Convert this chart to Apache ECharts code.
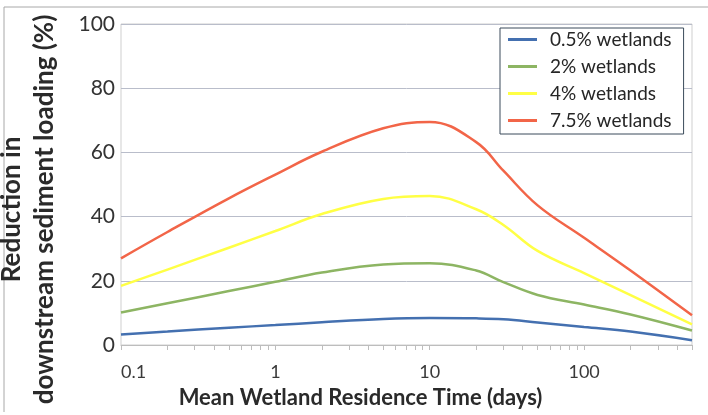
<!DOCTYPE html>
<html>
<head>
<meta charset="utf-8">
<script src="https://cdn.jsdelivr.net/npm/echarts@6/dist/echarts.min.js"></script>
<style>
  html, body { margin: 0; padding: 0; background: #fff; }
  #chart { width: 708px; height: 415px; }
</style>
</head>
<body>
<div id="chart"></div>
<script>
// residence time (days) and reduction (%)
const days = [0.1, 0.2, 0.5, 1, 2, 5, 10, 20, 30, 50, 100, 200, 500];
const wet05 = [3.3, 4.2, 5.4, 6.2, 7.1, 8.1, 8.4, 8.3, 8.0, 7.0, 5.6, 4.2, 1.5];
const wet2 = [10.1, 13.0, 16.8, 19.7, 22.6, 25.1, 25.5, 23.2, 19.6, 15.6, 12.6, 9.5, 4.5];
const wet4 = [18.4, 23.5, 30.3, 35.5, 40.8, 45.5, 46.4, 42.3, 37.4, 29.3, 22.4, 15.5, 6.4];
const wet75 = [27.0, 35.2, 45.7, 53.1, 60.2, 67.5, 69.5, 63.2, 54.3, 43.5, 33.4, 23.2, 9.3];

const seriesNames = ['0.5% wetlands', '2% wetlands', '4% wetlands', '7.5% wetlands'];
const colors = ['#4470b0', '#8db563', '#ffff45', '#f26548'];
const xLabels = [0.1, 1, 10, 100];
const xTicks = [0.1, 0.2, 0.3, 0.4, 0.5, 0.6, 0.7, 0.8, 0.9,
  1, 2, 3, 4, 5, 6, 7, 8, 9, 10, 20, 30, 40, 50, 60, 70, 80, 90,
  100, 200, 300, 400, 500];

const font = 'Lato, "Open Sans", sans-serif';

function pairs(ys) {
  return days.map((d, i) => [d, ys[i]]);
}

const chart = echarts.init(document.getElementById('chart'));
const allY = [wet05, wet2, wet4, wet75];

const option = {
  backgroundColor: '#fff',
  animation: false,
  color: colors,
  graphic: [
    { type: 'line', shape: { x1: 4, y1: 7, x2: 708, y2: 7 }, style: { stroke: '#a8a8a8', lineWidth: 1 } },
    { type: 'line', shape: { x1: 4, y1: 7, x2: 4, y2: 412 }, style: { stroke: '#a8a8a8', lineWidth: 1 } }
  ],
  grid: {
    left: 121, right: 16, top: 24, bottom: 70,
    outerBoundsMode: 'none',
    containLabel: false,
    show: true, borderColor: '#cfcfcf', borderWidth: 1
  },
  legend: {
    orient: 'vertical',
    left: 500, top: 28,
    padding: [2, 12, 4, 8],
    borderColor: '#3a4a5a', borderWidth: 1,
    backgroundColor: '#fff',
    icon: 'rect',
    itemWidth: 29, itemHeight: 3, itemGap: 8,
    textStyle: { fontFamily: font, fontSize: 19, lineHeight: 18, color: '#262626', padding: [0, 0, 0, 8] },
    data: seriesNames
  },
  xAxis: {
    type: 'log', logBase: 10, min: 0.1, max: 500,
    name: 'Mean Wetland Residence Time (days)',
    nameLocation: 'middle', nameGap: 42,
    nameTextStyle: {
      fontFamily: font, fontSize: 22, fontWeight: 'bold', color: '#2a2a2a',
      padding: [0, 92, 0, 0]
    },
    axisLine: { lineStyle: { color: '#bdbdbd', width: 1 } },
    axisTick: { show: true, length: 5, customValues: xTicks, lineStyle: { color: '#bdbdbd' } },
    axisLabel: {
      customValues: xLabels, margin: 18, alignMinLabel: 'left',
      fontFamily: font, fontSize: 18, color: '#3a3a3a',
      formatter: v => String(v)
    },
    splitLine: { show: false },
    minorTick: { show: false }
  },
  yAxis: {
    type: 'value', min: 0, max: 100, interval: 20,
    name: 'Reduction in\ndownstream sediment loading (%)',
    nameLocation: 'middle', nameRotate: 90, nameGap: 60,
    nameTextStyle: {
      fontFamily: font, fontSize: 26, fontWeight: 'bold', color: '#2a2a2a', lineHeight: 33,
      padding: [0, 50, 0, 0]
    },
    axisLine: { show: false },
    axisTick: { show: false },
    axisLabel: { fontFamily: font, fontSize: 21, color: '#333', margin: 6 },
    splitLine: { lineStyle: { color: '#b9bdca', width: 1 } }
  },
  series: seriesNames.map((name, i) => ({
    name: name,
    type: 'line',
    smooth: 0.4,
    symbol: 'none',
    lineStyle: { width: 2.5, color: colors[i] },
    data: pairs(allY[i])
  }))
};

chart.setOption(option);
</script>
</body>
</html>
